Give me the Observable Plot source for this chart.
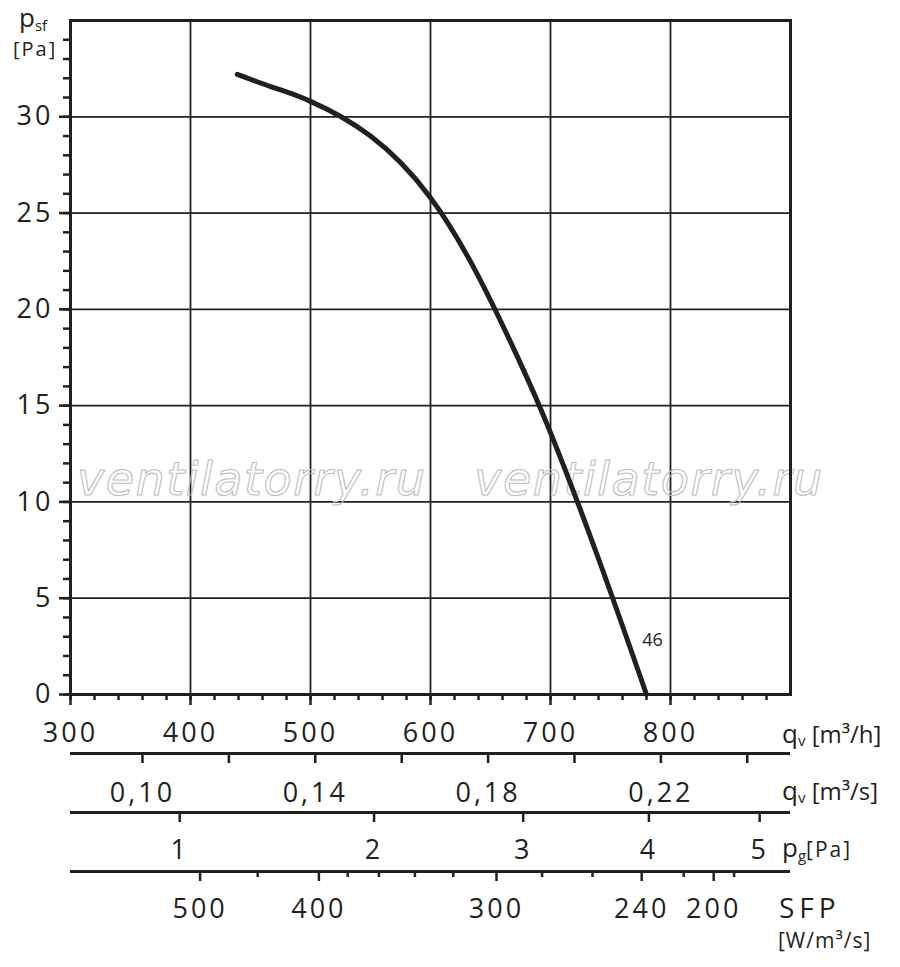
<!DOCTYPE html>
<html>
<head>
<meta charset="utf-8">
<script src="https://cdn.jsdelivr.net/npm/d3@7"></script>
<script src="https://cdn.jsdelivr.net/npm/@observablehq/plot@0.6"></script>
<style>
  html, body { margin: 0; padding: 0; background: #fff; }
  #chart { width: 900px; height: 967px; }
  #chart g[aria-label$="tick label"] text { letter-spacing: 3px; }
</style>
</head>
<body>
<div id="chart"></div>
<script>
// ---- data ----
// fan curve 46: air flow q_v [m³/h] and static pressure p_sf [Pa]
const flow     = [439, 470, 500, 550, 600, 640, 672, 700, 740, 780];
const pressure = [32.2, 31.5, 30.8, 29.0, 25.8, 21.7, 17.6, 13.6, 7.05, 0];
const curveName = "46";
const curveLabelFlow = 785;
const curveLabelPressure = 2.8;

// main axes
const flowDomain = [300, 900];
const pressureDomain = [0, 35];
const flowMajor = [300, 400, 500, 600, 700, 800];
const flowGrid = [400, 500, 600, 700, 800];
const flowMinor = d3.range(300, 900, 20);
const pressureMajor = [0, 5, 10, 15, 20, 25, 30];
const pressureGrid = [5, 10, 15, 20, 25, 30];
const pressureMinor = d3.range(0, 35, 1);

// secondary scale: q_v [m³/s]
const flowSecTicks = [0.10, 0.12, 0.14, 0.16, 0.18, 0.20, 0.22, 0.24];
const flowSecLabels = [0.10, 0.14, 0.18, 0.22];

// secondary scale: p_g [Pa] (dynamic pressure, grows with flow²)
const pgTicks = [1, 2, 3, 4, 5];
const pgFlowAtOnePa = 391;

// secondary scale: SFP [W/m³/s], positions given as air flow
const sfpLabels = [500, 400, 300, 240, 200];
const sfpLabelFlow = [408, 507, 655, 776, 836];
const sfpMinor = [450, 380, 360, 340, 320, 280, 260, 220, 190];
const sfpMinorFlow = [456, 531, 557, 587, 619, 693, 735, 811, 853];

// watermark
const watermarkText = "ventilatorry.ru";
const watermarkFlow = [451, 782];
const watermarkPressure = [11.1, 11.1];

// ---- build tables ----
const curve = flow.map((q, i) => ({q, p: pressure[i]}));
const marks = watermarkFlow.map((q, i) => ({q, p: watermarkPressure[i], t: watermarkText}));
const ink = "#231f20";
const font = "Open Sans";

const sfpMap = new Map(sfpLabelFlow.map((q, i) => [q, sfpLabels[i]]));

const chart = Plot.plot({
  width: 900,
  height: 967,
  marginTop: 20,
  marginLeft: 70,
  marginRight: 110,
  marginBottom: 273,
  x: {domain: flowDomain},
  y: {domain: pressureDomain},
  style: {fontFamily: font, color: ink, background: "#fff", overflow: "visible"},
  marks: [
    Plot.gridX(flowGrid, {stroke: ink, strokeOpacity: 1, strokeWidth: 1.8}),
    Plot.gridY(pressureGrid, {stroke: ink, strokeOpacity: 1, strokeWidth: 1.8}),
    Plot.text(marks, {x: "q", y: "p", text: "t", fill: "none", stroke: "#bdbdbd", strokeWidth: 1.1,
      fontSize: 46, fontStyle: "italic", fontFamily: "DejaVu Sans", textAnchor: "middle", lineAnchor: "middle"}),
    Plot.frame({stroke: ink, strokeWidth: 3}),
    // y axis
    Plot.axisY(pressureMinor, {anchor: "left", tickSize: 7, tickFormat: () => "", strokeWidth: 2.5, label: null}),
    Plot.axisY(pressureMajor, {anchor: "left", tickSize: 11, tickPadding: 6, strokeWidth: 2.5, fontSize: 27, label: null}),
    // main x axis q_v [m³/h]
    Plot.axisX(flowMinor, {anchor: "bottom", tickSize: 6, tickFormat: () => "", strokeWidth: 2.5, label: null}),
    Plot.axisX(flowMajor, {anchor: "bottom", tickSize: 11, tickPadding: 17, strokeWidth: 2.5, fontSize: 27, label: null}),
    // q_v [m³/s]
    Plot.ruleY([0], {dy: 59, stroke: ink, strokeWidth: 3}),
    Plot.axisX(flowSecTicks.map(v => v * 3600), {anchor: "bottom", dy: 59, tickSize: 10, tickFormat: () => "", strokeWidth: 2.5, label: null}),
    Plot.axisX(flowSecLabels.map(v => v * 3600), {anchor: "bottom", dy: 59, tickSize: 0, tickPadding: 29, fontSize: 27, label: null,
      tickFormat: d => (d / 3600).toFixed(2).replace(".", ",")}),
    // p_g [Pa]
    Plot.ruleY([0], {dy: 118, stroke: ink, strokeWidth: 3}),
    Plot.axisX(pgTicks.map(v => pgFlowAtOnePa * Math.sqrt(v)), {anchor: "bottom", dy: 118, tickSize: 10, tickPadding: 17,
      strokeWidth: 2.5, fontSize: 27, label: null, tickFormat: d => String(Math.round((d / pgFlowAtOnePa) ** 2))}),
    // SFP [W/m³/s]
    Plot.ruleY([0], {dy: 177, stroke: ink, strokeWidth: 3}),
    Plot.axisX(sfpMinorFlow, {anchor: "bottom", dy: 177, tickSize: 6, tickFormat: () => "", strokeWidth: 2.5, label: null}),
    Plot.axisX(sfpLabelFlow, {anchor: "bottom", dy: 177, tickSize: 10, tickPadding: 17, strokeWidth: 2.5, fontSize: 27, label: null,
      tickFormat: d => String(sfpMap.get(d))}),
    // curve
    Plot.line(curve, {x: "q", y: "p", stroke: ink, strokeWidth: 5, curve: "natural", strokeLinecap: "round"}),
    Plot.text([{q: curveLabelFlow, p: curveLabelPressure, t: curveName}], {x: "q", y: "p", text: "t", fontSize: 18, fill: ink})
  ]
});

document.getElementById("chart").appendChild(chart);

// ---- unit labels with sub/superscripts ----
const svg = d3.select(chart.tagName.toLowerCase() === "svg" ? chart : chart.querySelector("svg"));
svg.selectAll("text").filter(function() { return this.textContent === watermarkText; })
  .style("letter-spacing", "1.5px");
const g = svg.append("g").attr("fill", ink).attr("font-family", font).attr("text-anchor", "start");

function label(x, y, parts, spacing) {
  const t = g.append("text").attr("x", x).attr("y", y).attr("text-anchor", "start")
    .style("letter-spacing", (spacing || 0) + "px");
  let shift = 0;
  for (const [txt, size, dy, ls] of parts) {
    const s = t.append("tspan").attr("font-size", size).attr("dy", dy - shift).text(txt);
    if (ls != null) s.style("letter-spacing", ls + "px");
    shift = dy;
  }
  return t;
}

label(19, 27, [["p", 26, 0], ["sf", 15, 4]]);
label(13, 56, [["[Pa]", 20, 0]], 2);
label(782, 743, [["q", 26, 0], ["v", 15, 3], [" [m³/h]", 24, 0]]);
label(782, 800, [["q", 26, 0], ["v", 15, 3], [" [m³/s]", 24, 0]]);
label(782, 857, [["p", 26, 0], ["g", 15, 4], ["[Pa]", 21, 0, 2]]);
label(779, 918, [["SFP", 28, 0]], 5);
label(778, 948, [["[W/m³/s]", 21, 0]], 1);
</script>
</body>
</html>
